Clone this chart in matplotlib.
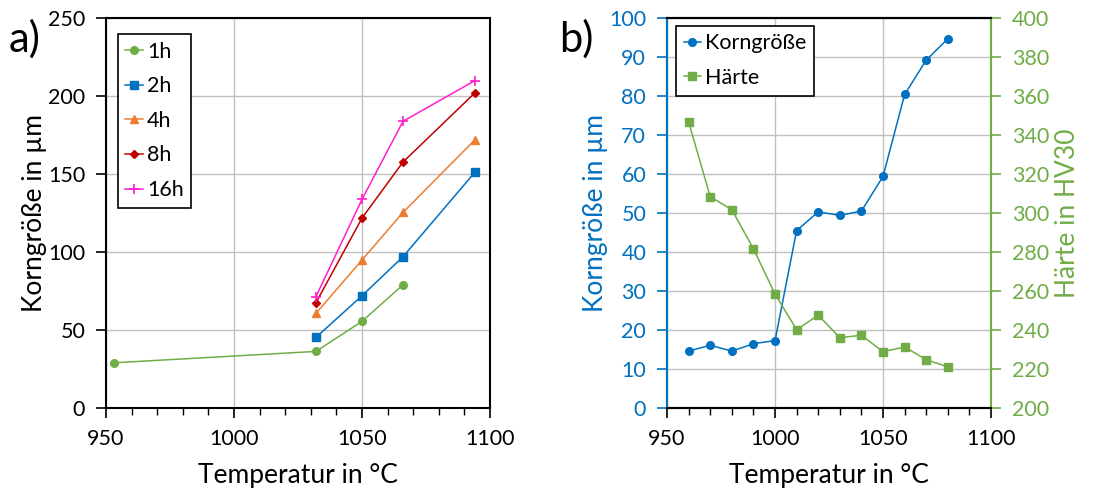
import matplotlib.pyplot as plt
from matplotlib.ticker import MultipleLocator

plt.rcParams['font.family'] = ['Lato', 'DejaVu Sans']

# a) Korngröße vs. Temperatur for different holding times
temp_1h = [953, 1032, 1050, 1066]
grain_1h = [29, 36.3, 55.6, 79]
temp_long = [1032, 1050, 1066, 1094]
grain_2h = [45.3, 72, 97, 151]
grain_4h = [60.7, 94.9, 125.4, 171.8]
grain_8h = [67.5, 121.8, 157.7, 201.9]
grain_16h = [71.4, 133.8, 183.8, 209.8]

# b) Korngröße and Härte vs. Temperatur
temp_b = [960, 970, 980, 990, 1000, 1010, 1020, 1030, 1040, 1050, 1060, 1070, 1080]
grain_b = [14.6, 16.1, 14.6, 16.5, 17.3, 45.5, 50.3, 49.4, 50.5, 59.4, 80.4, 89.2, 94.7]
hardness_b = [346.7, 308.4, 301.7, 281.7, 258.4, 240.2, 247.6, 236.1, 237.3, 228.9, 231.3, 224.8, 221.1]

blue = '#0070C0'
green = '#70AD47'
orange = '#ED7D31'
darkred = '#C00000'
magenta = '#FF1FCC'
gridc = '#C0C0C0'

fig = plt.figure(figsize=(11.02, 4.94), dpi=100)
ax1 = fig.add_axes([0.0962, 0.174, 0.3485, 0.7895])
ax2 = fig.add_axes([0.6053, 0.174, 0.294, 0.7895])

lw = 1.1
ax1.plot(temp_1h, grain_1h, color=green, marker='o', ms=5.5, lw=lw, label='1h')
ax1.plot(temp_long, grain_2h, color=blue, marker='s', ms=5.5, lw=lw, label='2h')
ax1.plot(temp_long, grain_4h, color=orange, marker='^', ms=6, lw=lw, label='4h')
ax1.plot(temp_long, grain_8h, color=darkred, marker='D', ms=4.5, lw=lw, label='8h')
ax1.plot(temp_long, grain_16h, color=magenta, marker='+', ms=7, mew=1.2, lw=lw, label='16h')

ax1.set_xlim(950, 1100)
ax1.set_ylim(0, 250)
ax1.xaxis.set_major_locator(MultipleLocator(50))
ax1.xaxis.set_minor_locator(MultipleLocator(10))
ax1.yaxis.set_major_locator(MultipleLocator(50))
ax1.grid(True, which='major', color=gridc, lw=1.0)
ax1.set_axisbelow(True)
ax1.tick_params(axis='both', which='major', direction='out', length=7, width=1.2, labelsize=15.5, pad=8)
ax1.tick_params(axis='x', which='minor', direction='out', length=5, width=1.0)
for s in ax1.spines.values():
    s.set_linewidth(1.5)
ax1.set_xlabel('Temperatur in °C', fontsize=19, labelpad=10)
ax1.set_ylabel('Korngröße in µm', fontsize=19, labelpad=1)
leg = ax1.legend(loc='upper left', bbox_to_anchor=(0.031, 0.959), borderaxespad=0, fontsize=15.5,
                 handlelength=0.8, handletextpad=0.2, borderpad=0.35, labelspacing=0.68,
                 fancybox=False, edgecolor='black', framealpha=1)
leg.get_frame().set_linewidth(1.2)
fig.text(0.008, 0.895, 'a)', fontsize=30)

ax2.plot(temp_b, grain_b, color=blue, marker='o', ms=5.5, lw=lw, label='Korngröße')
ax3 = ax2.twinx()
ax3.plot(temp_b, hardness_b, color=green, marker='s', ms=5.5, lw=lw, label='Härte')

ax2.set_xlim(950, 1100)
ax2.set_ylim(0, 100)
ax3.set_ylim(200, 400)
ax2.xaxis.set_major_locator(MultipleLocator(50))
ax2.xaxis.set_minor_locator(MultipleLocator(10))
ax2.yaxis.set_major_locator(MultipleLocator(10))
ax3.yaxis.set_major_locator(MultipleLocator(20))
ax2.grid(True, which='major', color=gridc, lw=1.0)
ax2.set_axisbelow(True)
ax2.tick_params(axis='both', which='major', direction='out', length=7, width=1.2, labelsize=15.5, pad=8)
ax2.tick_params(axis='x', which='minor', direction='out', length=5, width=1.0)
ax2.tick_params(axis='y', colors=blue)
ax3.tick_params(axis='y', direction='out', length=7, width=1.2, labelsize=15.5, colors=green, pad=8)
for s in ax2.spines.values():
    s.set_linewidth(1.5)
for s in ax3.spines.values():
    s.set_linewidth(1.5)
ax3.spines['left'].set_color(blue)
ax3.spines['right'].set_color(green)
ax2.spines['left'].set_color(blue)
ax2.spines['right'].set_color(green)
ax2.set_xlabel('Temperatur in °C', fontsize=19, labelpad=10)
ax2.set_ylabel('Korngröße in µm', fontsize=19, color=blue, labelpad=1)
ax3.set_ylabel('Härte in HV30', fontsize=19, color=green, labelpad=4)

h1, l1 = ax2.get_legend_handles_labels()
h2, l2 = ax3.get_legend_handles_labels()
leg2 = ax3.legend(h1 + h2, l1 + l2, loc='upper left', bbox_to_anchor=(0.028, 0.98), borderaxespad=0,
                  fontsize=15.5, handlelength=0.8, handletextpad=0.2, borderpad=0.35,
                  labelspacing=0.68, fancybox=False, edgecolor='black', framealpha=1)
leg2.get_frame().set_linewidth(1.2)
fig.text(0.507, 0.895, 'b)', fontsize=30)

fig.savefig('out.png', dpi=100)
